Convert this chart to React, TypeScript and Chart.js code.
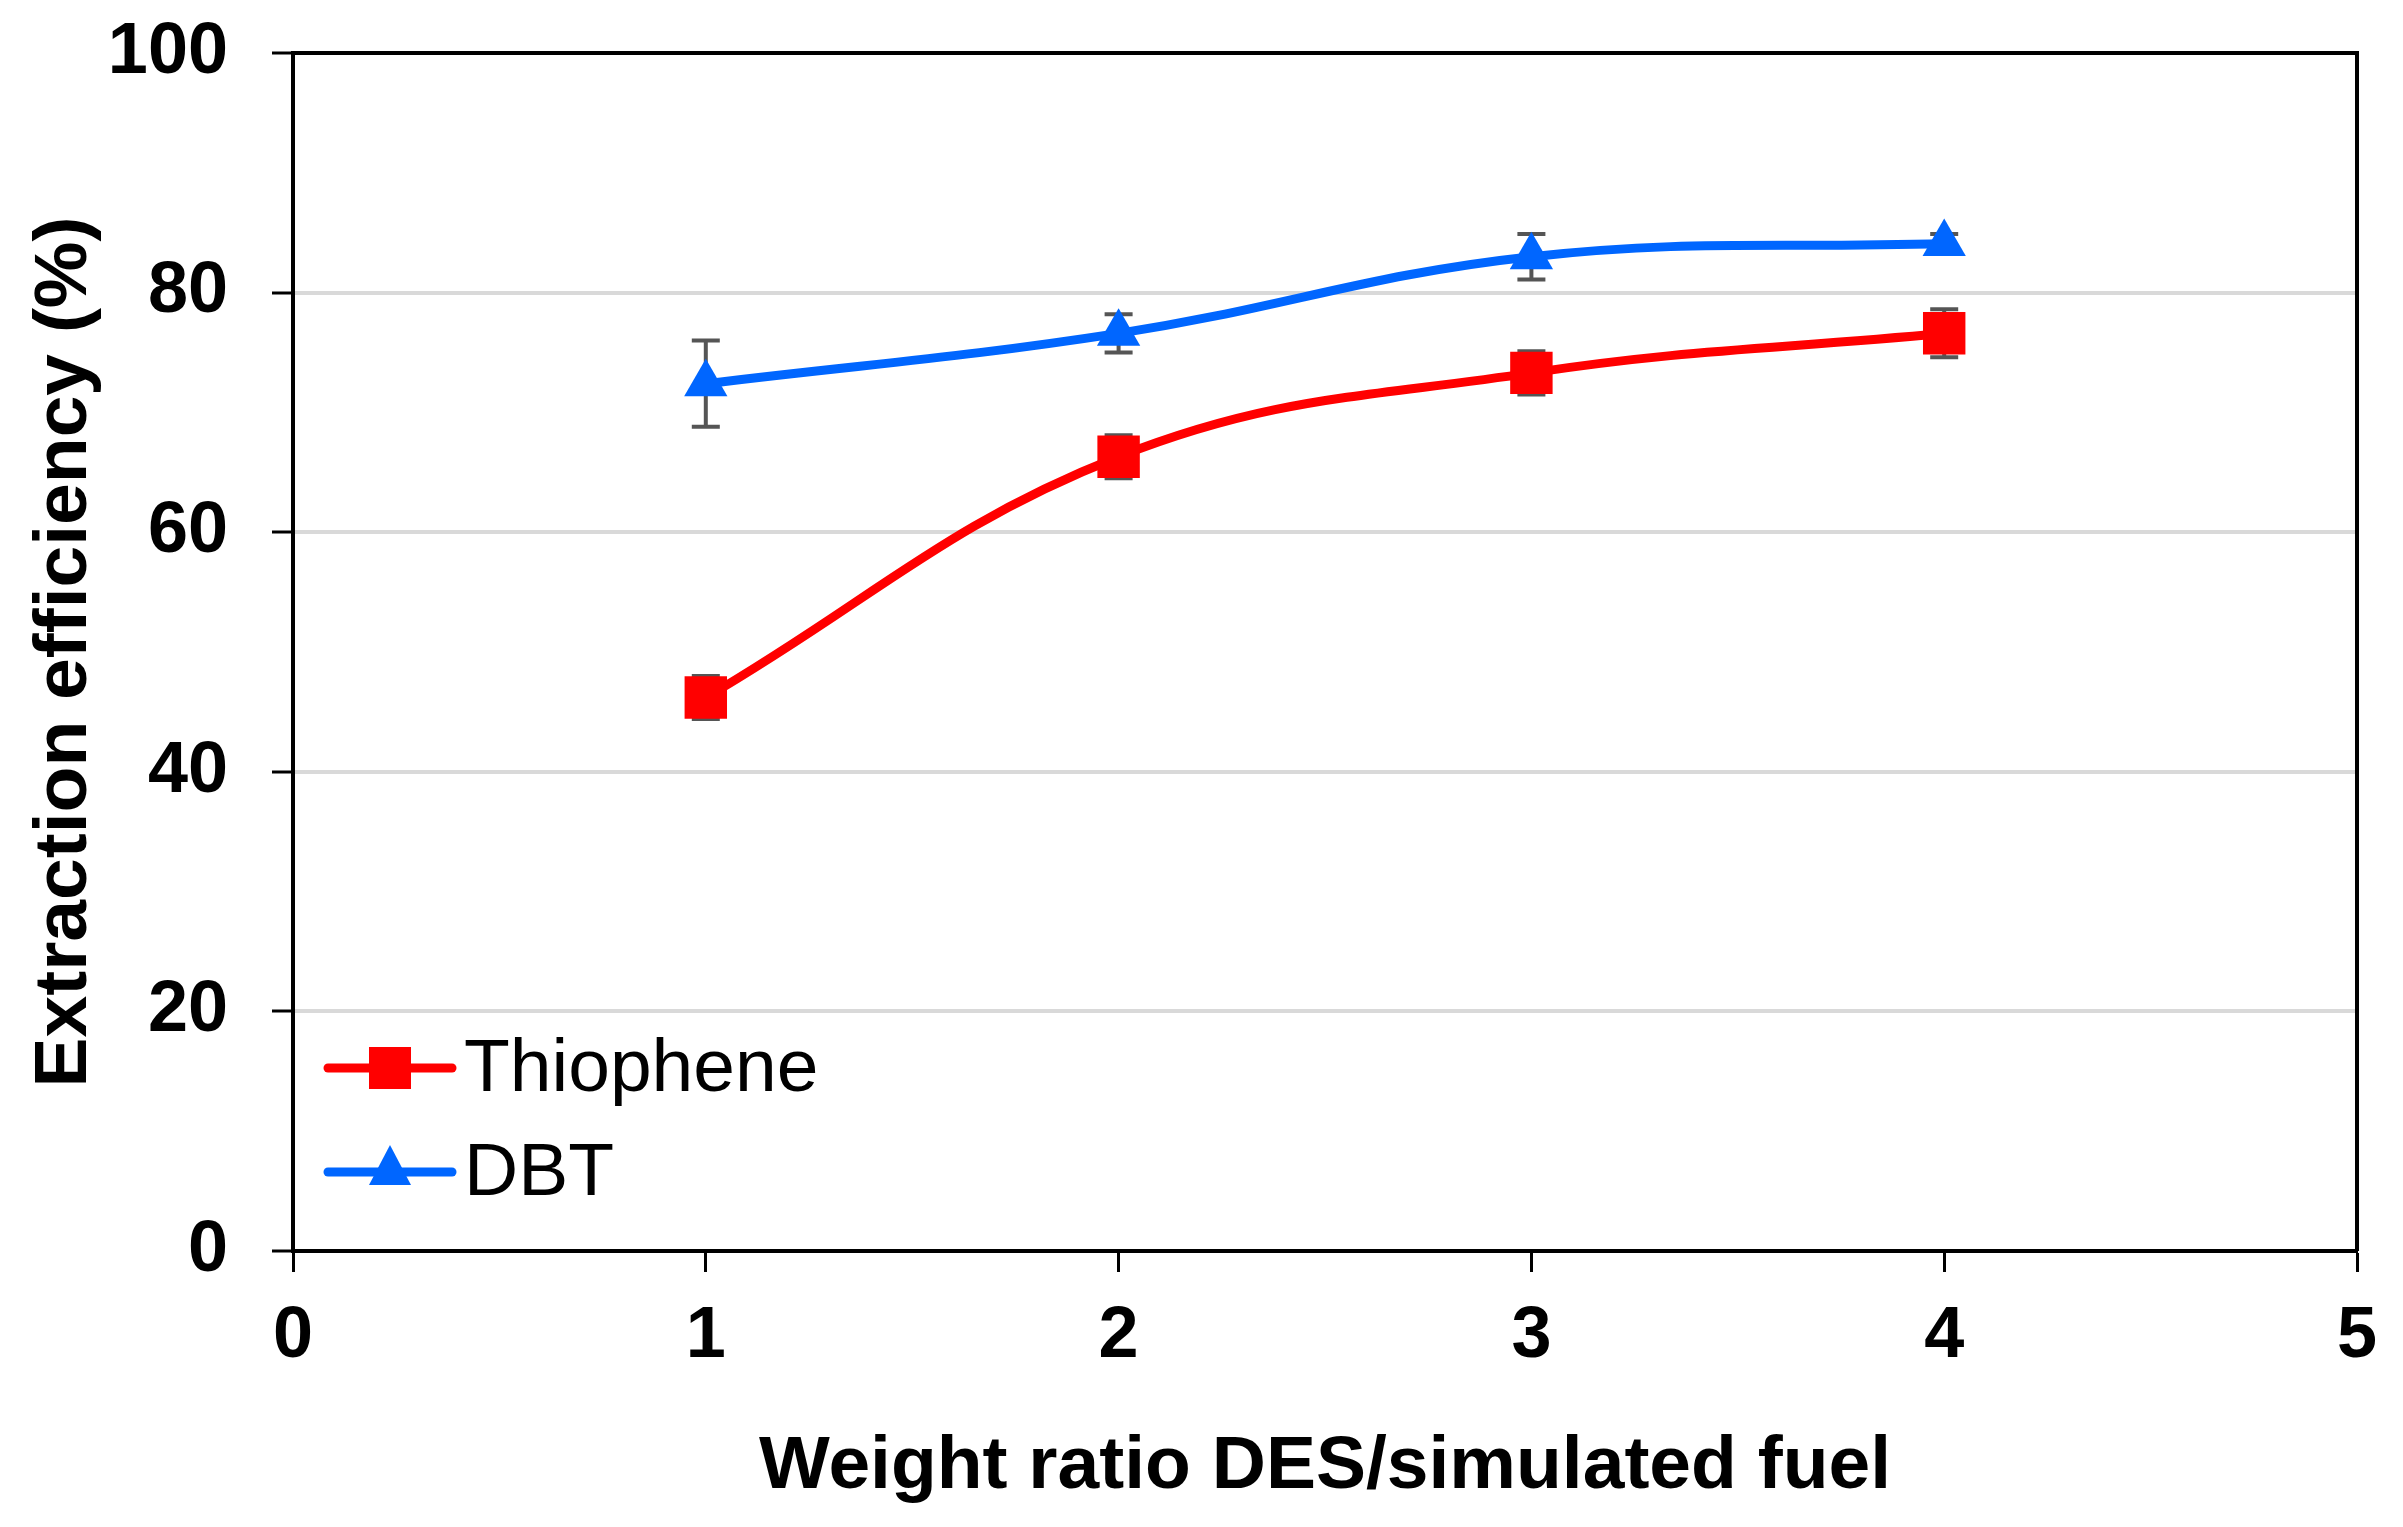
import { useEffect, useRef } from "react";
import { Chart, registerables } from "chart.js";

Chart.register(...registerables);

// weight ratio DES / simulated fuel
const ratios = [1, 2, 3, 4];

const thiophene = [46.2, 66.3, 73.3, 76.6];
const thiopheneErr = [1.8, 1.8, 1.8, 2.0];

const dbt = [72.4, 76.6, 83.0, 84.1];
const dbtErr = [3.6, 1.6, 1.9, 0.8];

const xTicks = [0, 1, 2, 3, 4, 5];
const yTicks = [0, 20, 40, 60, 80, 100];

const RED = "#ff0000";
const BLUE = "#0066ff";
const FONT = "'Liberation Sans', Arial, sans-serif";

const errorBars = {
  id: "errorBars",
  beforeDatasetsDraw(chart: any) {
    const { ctx, scales } = chart;
    chart.data.datasets.forEach((ds: any) => {
      const errs: number[] = ds.errors || [];
      ds.data.forEach((p: any, i: number) => {
        const e = errs[i];
        if (!e) return;
        const x = scales.x.getPixelForValue(p.x);
        const top = scales.y.getPixelForValue(p.y + e);
        const bot = scales.y.getPixelForValue(p.y - e);
        ctx.save();
        ctx.strokeStyle = "#555555";
        ctx.lineWidth = 4;
        ctx.beginPath();
        ctx.moveTo(x, top);
        ctx.lineTo(x, bot);
        ctx.moveTo(x - 14, top);
        ctx.lineTo(x + 14, top);
        ctx.moveTo(x - 14, bot);
        ctx.lineTo(x + 14, bot);
        ctx.stroke();
        ctx.restore();
      });
    });
  },
};

const frameAndLegend = {
  id: "frameAndLegend",
  afterDraw(chart: any) {
    const { ctx, chartArea } = chart;
    const { left, right, top, bottom } = chartArea;
    ctx.save();
    // top and right frame
    ctx.strokeStyle = "#000";
    ctx.lineWidth = 4;
    ctx.beginPath();
    ctx.moveTo(left, top);
    ctx.lineTo(right, top);
    ctx.lineTo(right, bottom);
    ctx.stroke();

    // legend inside plot, lower left
    const rows = [
      { label: "Thiophene", color: RED, style: "rect", y: bottom - 183 },
      { label: "DBT", color: BLUE, style: "triangle", y: bottom - 79 },
    ];
    rows.forEach((r) => {
      const x0 = left + 35;
      const x1 = left + 159;
      const cx = left + 97;
      ctx.strokeStyle = r.color;
      ctx.lineWidth = 9;
      ctx.lineCap = "round";
      ctx.beginPath();
      ctx.moveTo(x0, r.y);
      ctx.lineTo(x1, r.y);
      ctx.stroke();
      ctx.fillStyle = r.color;
      ctx.beginPath();
      if (r.style === "rect") {
        ctx.rect(cx - 21, r.y - 21, 42, 42);
      } else {
        ctx.moveTo(cx, r.y - 27);
        ctx.lineTo(cx + 21, r.y + 13);
        ctx.lineTo(cx - 21, r.y + 13);
        ctx.closePath();
      }
      ctx.fill();
      ctx.fillStyle = "#000";
      ctx.font = `75px ${FONT}`;
      ctx.textBaseline = "middle";
      ctx.textAlign = "left";
      ctx.fillText(r.label, left + 171, r.y + 2);
    });
    ctx.restore();
  },
};

export default function App() {
  const chartRef = useRef<HTMLCanvasElement>(null);
  const chartInstance = useRef<Chart | null>(null);

  useEffect(() => {
    document.body.style.margin = "0";
    if (!chartRef.current) return;
    if (chartInstance.current) chartInstance.current.destroy();

    const ctx = chartRef.current.getContext("2d");
    if (!ctx) return;

    const tickFont = { family: FONT, size: 72, weight: "bold" as const };
    const titleFont = { family: FONT, size: 75, weight: "bold" as const, lineHeight: 1 };

    chartInstance.current = new Chart(ctx, {
      type: "line",
      data: {
        datasets: [
          {
            label: "Thiophene",
            data: ratios.map((x, i) => ({ x, y: thiophene[i] })),
            errors: thiopheneErr,
            borderColor: RED,
            backgroundColor: RED,
            borderWidth: 9,
            pointStyle: "rect",
            pointRadius: 30,
            pointBorderWidth: 0,
            tension: 0.4,
          } as any,
          {
            label: "DBT",
            data: ratios.map((x, i) => ({ x, y: dbt[i] })),
            errors: dbtErr,
            borderColor: BLUE,
            backgroundColor: BLUE,
            borderWidth: 9,
            pointStyle: "triangle",
            pointRadius: 25,
            pointBorderWidth: 0,
            tension: 0.4,
          } as any,
        ],
      },
      options: {
        responsive: false,
        devicePixelRatio: 1,
        animation: false,
        layout: { padding: { top: 53, right: 46, left: 0, bottom: 0 } },
        plugins: {
          legend: { display: false },
          tooltip: { enabled: false },
        },
        scales: {
          x: {
            type: "linear",
            min: 0,
            max: 5,
            afterBuildTicks: (scale: any) => {
              scale.ticks = xTicks.map((v) => ({ value: v }));
            },
            afterFit: (scale: any) => {
              scale.height = 276;
            },
            ticks: {
              font: tickFont,
              color: "#000",
              padding: 22,
              maxRotation: 0,
              autoSkip: false,
            },
            grid: {
              drawOnChartArea: false,
              drawTicks: true,
              tickLength: 21,
              tickColor: "#000",
              tickWidth: 3,
            },
            border: { color: "#000", width: 4 },
            title: {
              display: true,
              text: "Weight ratio DES/simulated fuel",
              font: titleFont,
              color: "#000",
              padding: { top: 0, bottom: 22 },
            },
          },
          y: {
            min: 0,
            max: 100,
            afterBuildTicks: (scale: any) => {
              scale.ticks = yTicks.map((v) => ({ value: v }));
            },
            afterFit: (scale: any) => {
              scale.width = 293;
              scale.paddingTop = 0;
              scale.paddingBottom = 0;
            },
            ticks: {
              font: tickFont,
              color: "#000",
              padding: 44,
              autoSkip: false,
            },
            grid: {
              color: "#d9d9d9",
              lineWidth: 4,
              drawTicks: true,
              tickLength: 21,
              tickColor: "#000",
              tickWidth: 3,
            },
            border: { color: "#000", width: 4 },
            title: {
              display: true,
              text: "Extraction efficiency (%)",
              font: titleFont,
              color: "#000",
              padding: { top: 28, bottom: 0 },
            },
          },
        },
      },
      plugins: [errorBars, frameAndLegend],
    });

    return () => {
      if (chartInstance.current) {
        chartInstance.current.destroy();
        chartInstance.current = null;
      }
    };
  }, []);

  return (
    <div style={{ width: 2403, height: 1527, background: "#fff" }}>
      <canvas ref={chartRef} width={2403} height={1527} />
    </div>
  );
}
